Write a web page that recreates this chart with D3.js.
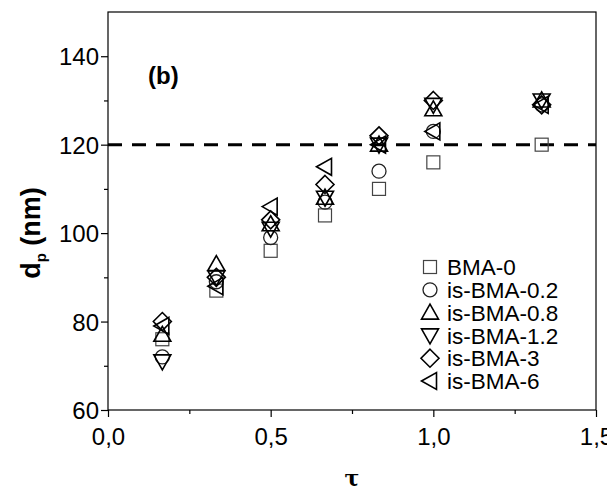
<!DOCTYPE html>
<html><head><meta charset="utf-8">
<script src="https://cdn.jsdelivr.net/npm/d3@7"></script>
<style>body{margin:0;background:#fff}svg{display:block}</style>
</head><body>
<svg id="c" width="607" height="491"></svg>
<script>
const tau = [0.167, 0.333, 0.5, 0.667, 0.833, 1.0, 1.333];
const seriesNames = ["BMA-0","is-BMA-0.2","is-BMA-0.8","is-BMA-1.2","is-BMA-3","is-BMA-6"];
const bma0   = [76, 87, 96, 104, 110, 116, 120];
const is02   = [72, 89, 99, 107, 114, 123, 129];
const is08   = [77, 93, 102, 108, 120, 128, 130];
const is12   = [71, 90, 101, 108, 120, 129, 130];
const is3    = [80, 90, 103, 111, 122, 130, 129];
const is6    = [79, 88, 106, 115, 120, 123, 129];
const seriesValues = [bma0, is02, is08, is12, is3, is6];
const xTicks = [0, 0.5, 1.0, 1.5];
const xTickLabels = ["0,0","0,5","1,0","1,5"];
const yTicks = [60, 80, 100, 120, 140];
const refLine = 120;

const svg = d3.select("#c");
const x = d3.scaleLinear().domain([0, 1.5]).range([108, 596]);
const y = d3.scaleLinear().domain([60, 150]).range([410, 12]);
const font = "Liberation Sans, Arial, sans-serif";

// frame
svg.append("rect").attr("x",108).attr("y",12).attr("width",488).attr("height",398)
  .attr("fill","none").attr("stroke","#000").attr("stroke-width",1.2);

// x axis
const xAx = svg.append("g").attr("transform","translate(0,410)")
  .call(d3.axisBottom(x).tickValues(xTicks).tickFormat((d,i)=>xTickLabels[i]).tickSize(7).tickSizeOuter(0));
const xMin = svg.append("g").attr("transform","translate(0,410)")
  .call(d3.axisBottom(x).tickValues([0.25,0.75,1.25]).tickFormat("").tickSize(4).tickSizeOuter(0));
// y axis
const yAx = svg.append("g").attr("transform","translate(108,0)")
  .call(d3.axisLeft(y).tickValues(yTicks).tickSize(7).tickSizeOuter(0));
const yMin = svg.append("g").attr("transform","translate(108,0)")
  .call(d3.axisLeft(y).tickValues([70,90,110,130]).tickFormat("").tickSize(4).tickSizeOuter(0));
[xAx,xMin,yAx,yMin].forEach(g=>{
  g.select(".domain").remove();
  g.selectAll("line").attr("stroke","#000").attr("stroke-width",1.2);
  g.selectAll("text").attr("font-family",font).attr("font-size",24).attr("fill","#000");
});
xAx.selectAll("text").attr("dy","1.05em");
yAx.selectAll("text").attr("dy","0.36em").attr("x",-9);

// dashed reference line
svg.append("line").attr("x1",x(0)).attr("x2",x(1.5)).attr("y1",y(refLine)).attr("y2",y(refLine))
  .attr("stroke","#000").attr("stroke-width",3).attr("stroke-dasharray","14,10");

// markers
function marker(g, i, cx, cy) {
  const s = 7.5;
  if (i === 0) {
    g.append("rect").attr("x",cx-6.5).attr("y",cy-6.5).attr("width",13).attr("height",13)
      .attr("fill","none").attr("stroke","#444").attr("stroke-width",1.2);
  } else if (i === 1) {
    g.append("circle").attr("cx",cx).attr("cy",cy).attr("r",7)
      .attr("fill","none").attr("stroke","#222").attr("stroke-width",1.3);
  } else {
    let pts;
    if (i === 2) pts = [[cx,cy-s-1],[cx+s+1,cy+s-1],[cx-s-1,cy+s-1]];
    else if (i === 3) pts = [[cx,cy+s+1],[cx+s+1,cy-s+1],[cx-s-1,cy-s+1]];
    else if (i === 4) pts = [[cx,cy-s-1.5],[cx+s+1.5,cy],[cx,cy+s+1.5],[cx-s-1.5,cy]];
    else pts = [[cx-s-1,cy],[cx+s-1,cy-s-1],[cx+s-1,cy+s+1]];
    g.append("polygon").attr("points",pts.map(p=>p.join(",")).join(" "))
      .attr("fill","none").attr("stroke","#000").attr("stroke-width",1.6);
  }
}
const pg = svg.append("g");
seriesValues.forEach((vals, i) => {
  vals.forEach((v, j) => marker(pg, i, x(tau[j]), y(v)));
});

// legend
const lg = svg.append("g");
seriesNames.forEach((n, i) => {
  const ly = 267 + i * 22.8;
  marker(lg, i, 430, ly);
  lg.append("text").attr("x",447).attr("y",ly).attr("dy","0.36em")
    .attr("font-family",font).attr("font-size",22.5).text(n);
});

// labels
svg.append("text").attr("x",148).attr("y",84).attr("font-family",font)
  .attr("font-weight","bold").attr("font-size",24).text("(b)");
const yl = svg.append("text").attr("transform","translate(40,233) rotate(-90)")
  .attr("text-anchor","middle").attr("font-family",font).attr("font-weight","bold").attr("font-size",27);
yl.append("tspan").text("d");
yl.append("tspan").attr("font-size",15).attr("dy",6).text("p");
yl.append("tspan").attr("dy",-6).text(" (nm)");
svg.append("text").attr("x",352).attr("y",486).attr("text-anchor","middle")
  .attr("font-family","DejaVu Serif, serif").attr("font-weight","bold").attr("font-size",22).text("τ");
</script>
</body></html>
